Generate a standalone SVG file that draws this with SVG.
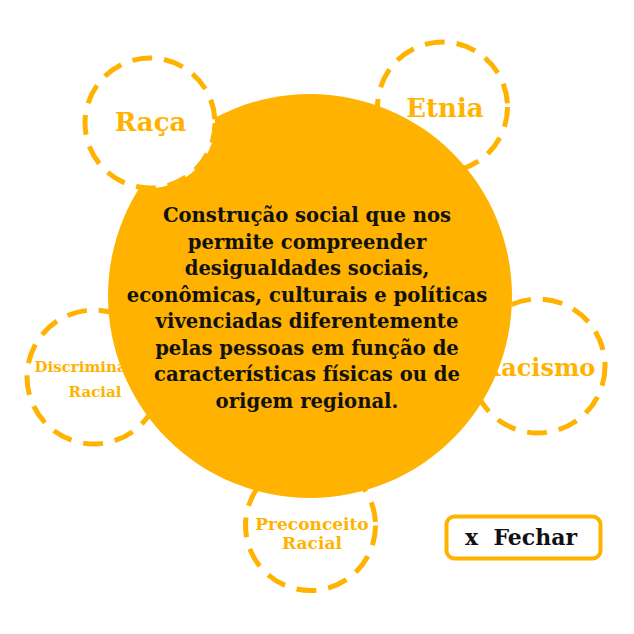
<svg xmlns="http://www.w3.org/2000/svg" width="634" height="634" viewBox="0 0 634 634">
<style>
.ring{fill:#fff;stroke:#FFB300;stroke-width:5;stroke-dasharray:20 12}
.lbl{font-family:"DejaVu Serif","Liberation Serif",serif;font-weight:bold;fill:#FFB300;text-anchor:middle}
.main{font-family:"DejaVu Serif","Liberation Serif",serif;font-weight:bold;fill:#111;text-anchor:middle;font-size:19.6px}
</style>
<rect width="634" height="634" fill="#fff"/>
<g id="etnia">
<circle class="ring" cx="442.5" cy="107" r="65"/>
<text class="lbl" x="445" y="117" font-size="26">Etnia</text>
</g>
<g id="discriminacao">
<circle class="ring" cx="94" cy="377" r="67"/>
<text class="lbl" x="95" y="372" font-size="15">Discriminação</text>
<text class="lbl" x="95" y="397" font-size="15">Racial</text>
</g>
<g id="racismo">
<circle class="ring" cx="538" cy="366" r="67"/>
<text class="lbl" x="538" y="376" font-size="24">Racismo</text>
</g>
<g id="preconceito">
<circle class="ring" cx="310.5" cy="525.5" r="65"/>
<text class="lbl" x="312" y="530" font-size="17">Preconceito</text>
<text class="lbl" x="312" y="549" font-size="17">Racial</text>
</g>
<g id="centro">
<circle cx="310" cy="296" r="202" fill="#FFB300"/>
</g>
<g id="raca">
<circle class="ring" cx="150" cy="123" r="65"/>
<text class="lbl" x="150.5" y="131" font-size="26">Raça</text>
</g>
<g id="centro-texto">
<text class="main" x="307" y="222">Construção social que nos</text>
<text class="main" x="307" y="248.5">permite compreender</text>
<text class="main" x="307" y="275">desigualdades sociais,</text>
<text class="main" x="307" y="301.5">econômicas, culturais e políticas</text>
<text class="main" x="307" y="328">vivenciadas diferentemente</text>
<text class="main" x="307" y="354.5">pelas pessoas em função de</text>
<text class="main" x="307" y="381">características físicas ou de</text>
<text class="main" x="307" y="407.5">origem regional.</text>
</g>
<g id="fechar">
<rect x="446.5" y="516.5" width="154" height="42" rx="8" fill="#fff" stroke="#FFB300" stroke-width="4"/>
<text x="521" y="544.5" font-family="DejaVu Serif, Liberation Serif, serif" font-weight="bold" font-size="22" fill="#111" text-anchor="middle" xml:space="preserve">x  Fechar</text>
</g>
<g id="conectores"/>
</svg>
